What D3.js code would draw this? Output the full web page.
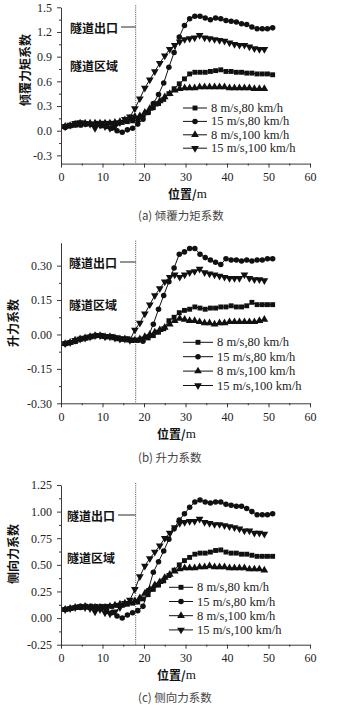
<!DOCTYPE html>
<html>
<head>
<meta charset="utf-8">
<script src="https://cdn.jsdelivr.net/npm/d3@7"></script>
<style>
  body { margin: 0; background: #fff; }
  svg { display: block; }
  .axis path, .axis line { stroke: #222; stroke-width: 0.9; }
</style>
</head>
<body>
<script>
// sample positions (m)
const xs80 = [1, 2.25, 3.5, 4.75, 6, 7.25, 8.5, 9.75, 11, 12.25, 13.5, 14.75, 16, 17.25, 18.5, 19.75, 21, 22.25, 23.5, 24.75,
  26, 27.25, 28.5, 29.75, 31, 32.25, 33.5, 34.75, 36, 37.25, 38.5, 39.75, 41, 42.25, 43.5, 44.75, 46, 47.25, 48.5, 49.75, 51];
const xs100 = [1, 2.2, 3.4, 4.6, 5.8, 7, 8.2, 9.4, 10.6, 11.8, 13, 14.2, 15.4, 16.6, 17.8, 19, 20.2, 21.4, 22.6, 23.8,
  25, 26.2, 27.4, 28.6, 29.8, 31, 32.2, 33.4, 34.6, 35.8, 37, 38.2, 39.4, 40.6, 41.8, 43, 44.2, 45.4, 46.6, 47.8, 49];

const legendLabels = ['8 m/s,80 km/h', '15 m/s,80 km/h', '8 m/s,100 km/h', '15 m/s,100 km/h'];
const xTicks = [0, 10, 20, 30, 40, 50, 60];
const tunnelExit = 18;

// (a) overturning moment coefficient
const momentSq = [0.05,0.06,0.07,0.07,0.08,0.08,0.09,0.09,0.09,0.09,0.09,0.10,0.11,0.12,0.13,0.17,0.22,0.28,0.33,0.38,
  0.45,0.51,0.57,0.63,0.69,0.71,0.71,0.71,0.72,0.73,0.74,0.72,0.72,0.71,0.71,0.70,0.70,0.69,0.69,0.69,0.68];
const momentCirc = [0.04,0.06,0.07,0.07,0.08,0.08,0.07,0.06,0.05,0.03,0.00,-0.02,0.01,0.03,0.08,0.14,0.22,0.33,0.44,0.58,
  0.77,0.95,1.14,1.28,1.36,1.39,1.39,1.37,1.35,1.37,1.36,1.34,1.33,1.32,1.30,1.29,1.26,1.24,1.24,1.24,1.25];
const momentUp = [0.05,0.06,0.08,0.09,0.09,0.09,0.09,0.09,0.09,0.09,0.10,0.11,0.13,0.15,0.17,0.18,0.22,0.27,0.32,0.36,
  0.41,0.45,0.49,0.51,0.52,0.52,0.52,0.53,0.53,0.53,0.53,0.53,0.53,0.52,0.52,0.52,0.52,0.52,0.51,0.51,0.51];
const momentDown = [0.05,0.07,0.09,0.10,0.09,0.08,0.03,0.07,0.05,0.03,0.05,0.10,0.14,0.17,0.27,0.39,0.52,0.62,0.72,0.82,
  0.91,0.99,1.04,1.08,1.11,1.12,1.13,1.16,1.13,1.12,1.11,1.10,1.09,1.07,1.05,1.04,1.04,1.02,1.00,0.99,0.99];
const momentTicks = [-0.3, 0, 0.3, 0.6, 0.9, 1.2, 1.5];

// (b) lift coefficient
const liftSq = [-0.04,-0.035,-0.03,-0.02,-0.015,-0.01,-0.005,-0.005,-0.01,-0.01,-0.015,-0.02,-0.02,-0.025,-0.025,-0.02,-0.015,-0.005,0.01,0.025,
  0.06,0.075,0.095,0.105,0.11,0.12,0.115,0.11,0.115,0.115,0.12,0.12,0.125,0.12,0.12,0.125,0.14,0.13,0.13,0.13,0.13];
const liftCirc = [-0.04,-0.035,-0.03,-0.02,-0.015,-0.01,-0.005,-0.005,-0.01,-0.01,-0.015,-0.02,-0.02,-0.025,-0.025,-0.03,-0.01,0.045,0.11,0.17,
  0.23,0.29,0.35,0.36,0.375,0.375,0.35,0.335,0.325,0.315,0.305,0.33,0.325,0.325,0.32,0.325,0.32,0.325,0.325,0.33,0.33];
const liftUp = [-0.04,-0.035,-0.025,-0.02,-0.015,-0.01,-0.005,-0.005,-0.01,-0.01,-0.015,-0.02,-0.02,-0.025,-0.025,-0.02,-0.01,0.0,0.01,0.02,
  0.03,0.045,0.06,0.07,0.065,0.06,0.06,0.055,0.05,0.05,0.045,0.05,0.05,0.055,0.055,0.055,0.055,0.055,0.055,0.06,0.065];
const liftDown = [-0.04,-0.035,-0.025,-0.02,-0.015,-0.01,-0.005,-0.005,-0.01,-0.01,-0.015,-0.02,-0.02,-0.025,0.02,0.05,0.09,0.13,0.17,0.20,
  0.23,0.25,0.26,0.25,0.26,0.27,0.275,0.285,0.27,0.265,0.26,0.255,0.25,0.245,0.245,0.245,0.26,0.245,0.24,0.24,0.235];
const liftTicks = [-0.3, -0.15, 0, 0.15, 0.3];

// (c) side force coefficient
const sideSq = [0.08,0.09,0.10,0.10,0.11,0.11,0.11,0.11,0.11,0.11,0.12,0.12,0.13,0.14,0.15,0.18,0.22,0.27,0.31,0.35,
  0.40,0.45,0.50,0.54,0.57,0.60,0.61,0.61,0.62,0.635,0.64,0.62,0.61,0.61,0.60,0.60,0.59,0.58,0.58,0.58,0.58];
const sideCirc = [0.08,0.09,0.10,0.11,0.11,0.11,0.10,0.09,0.07,0.05,0.02,0.00,0.03,0.05,0.07,0.11,0.26,0.43,0.53,0.63,
  0.74,0.84,0.92,0.98,1.04,1.09,1.11,1.09,1.08,1.09,1.09,1.07,1.06,1.05,1.05,1.03,1.00,0.97,0.97,0.97,0.98];
const sideUp = [0.08,0.09,0.10,0.10,0.11,0.10,0.10,0.10,0.10,0.11,0.12,0.13,0.14,0.15,0.16,0.19,0.23,0.27,0.31,0.34,
  0.38,0.41,0.44,0.46,0.47,0.47,0.47,0.48,0.48,0.49,0.48,0.48,0.48,0.47,0.47,0.47,0.47,0.46,0.46,0.46,0.45];
const sideDown = [0.08,0.09,0.10,0.11,0.10,0.09,0.06,0.08,0.05,0.04,0.06,0.10,0.14,0.17,0.27,0.39,0.49,0.56,0.62,0.68,
  0.75,0.80,0.85,0.89,0.90,0.91,0.91,0.93,0.90,0.89,0.88,0.88,0.87,0.86,0.85,0.84,0.82,0.82,0.80,0.80,0.79];
const sideTicks = [-0.25, 0, 0.25, 0.5, 0.75, 1.0, 1.25];

const panels = [
  { series: [momentSq, momentCirc, momentUp, momentDown], ticks: momentTicks, fmt: '.1f', yDomain: [-0.4, 1.5],
    ylabel: '倾覆力矩系数', caption: '(a) 倾覆力矩系数',
    top: 7.3, bottom: 163.6, yl: [24, 70], xl: [168, 193], capY: 215,
    legend: { x: 183, len: 24, tx: 211, y: 108, dy: 13.4 }, exitY: 27, zoneY: 65, textEnd: 118 },
  { series: [liftSq, liftCirc, liftUp, liftDown], ticks: liftTicks, fmt: '.2f', yDomain: [-0.3, 0.4],
    ylabel: '升力系数', caption: '(b) 升力系数',
    top: 242.7, bottom: 403.3, yl: [12, 323], xl: [157, 432.7], capY: 456.7,
    legend: { x: 183, len: 30, tx: 217, y: 342.3, dy: 14.4 }, exitY: 262, zoneY: 304, textEnd: 117 },
  { series: [sideSq, sideCirc, sideUp, sideDown], ticks: sideTicks, fmt: '.2f', yDomain: [-0.25, 1.25],
    ylabel: '侧向力系数', caption: '(c) 侧向力系数',
    top: 485, bottom: 644.7, yl: [12, 554], xl: [157, 674], capY: 697,
    legend: { x: 169, len: 24, tx: 197, y: 587.3, dy: 14.2 }, exitY: 515, zoneY: 557, textEnd: 115 }
];

const seriesXs = [xs80, xs80, xs100, xs100];
const symbols = [
  { type: d3.symbolSquare, size: 24, rot: 0 },
  { type: d3.symbolCircle, size: 24, rot: 0 },
  { type: d3.symbolTriangle, size: 26, rot: 0 },
  { type: d3.symbolTriangle, size: 26, rot: 180 }
];
const ink = '#111';
const cjk = '"Noto Sans CJK SC", sans-serif';
const serif = '"Liberation Serif", "DejaVu Serif", serif';

const svg = d3.select('body').append('svg')
  .attr('width', 341)
  .attr('height', 712);

const x = d3.scaleLinear().domain([0, 60]).range([61, 310]);
const xMinor = d3.pairs(xTicks).map(([a, b]) => (a + b) / 2);

// serif tick labels instead of d3's default sans
function styleTicks(sel) {
  sel.attr('font-family', serif).attr('font-size', 12);
  sel.selectAll('text').attr('fill', '#222').attr('font-family', serif).attr('font-size', 12);
}

panels.forEach(p => {
  const g = svg.append('g');
  const y = d3.scaleLinear().domain(p.yDomain).range([p.bottom, p.top]);
  const fmt = d => d3.format(p.fmt)(d).replace('\u2212', '-');
  const yMinor = d3.pairs(p.ticks).map(([a, b]) => (a + b) / 2);

  // axes
  g.append('g').attr('class', 'axis')
    .attr('transform', `translate(0,${p.bottom})`)
    .call(d3.axisBottom(x).tickValues(xTicks).tickSize(4).tickSizeOuter(0).tickPadding(5))
    .call(styleTicks);
  g.append('g').attr('class', 'axis')
    .attr('transform', `translate(0,${p.bottom})`)
    .call(d3.axisBottom(x).tickValues(xMinor).tickSize(2).tickFormat(''))
    .select('.domain').remove();
  g.append('g').attr('class', 'axis')
    .attr('transform', `translate(${x(0)},0)`)
    .call(d3.axisLeft(y).tickValues(p.ticks).tickFormat(fmt).tickSize(4).tickSizeOuter(0).tickPadding(5))
    .call(styleTicks);
  g.append('g').attr('class', 'axis')
    .attr('transform', `translate(${x(0)},0)`)
    .call(d3.axisLeft(y).tickValues(yMinor).tickSize(2).tickFormat(''))
    .select('.domain').remove();

  // tunnel exit marker
  g.append('line')
    .attr('x1', x(tunnelExit)).attr('x2', x(tunnelExit))
    .attr('y1', p.top - 2).attr('y2', p.bottom)
    .attr('stroke', '#333').attr('stroke-width', 0.9).attr('stroke-dasharray', '1,1.2');
  g.append('line')
    .attr('x1', p.textEnd + 3).attr('x2', x(tunnelExit))
    .attr('y1', p.exitY).attr('y2', p.exitY)
    .attr('stroke', ink).attr('stroke-width', 0.9);
  g.append('text')
    .attr('x', p.textEnd).attr('y', p.exitY)
    .attr('text-anchor', 'end').attr('dominant-baseline', 'central')
    .attr('font-family', cjk).attr('font-weight', 'bold').attr('font-size', 12).attr('fill', ink)
    .text('隧道出口');
  g.append('text')
    .attr('x', p.textEnd).attr('y', p.zoneY)
    .attr('text-anchor', 'end').attr('dominant-baseline', 'central')
    .attr('font-family', cjk).attr('font-weight', 'bold').attr('font-size', 12).attr('fill', ink)
    .text('隧道区域');

  // series
  p.series.forEach((vals, si) => {
    const xsArr = seriesXs[si];
    const line = d3.line().x((d, i) => x(xsArr[i])).y(d => y(d));
    g.append('path')
      .datum(vals)
      .attr('d', line)
      .attr('fill', 'none')
      .attr('stroke', ink)
      .attr('stroke-width', 1);
    const sym = symbols[si];
    g.append('g').selectAll('path')
      .data(vals)
      .join('path')
      .attr('transform', (d, i) => `translate(${x(xsArr[i])},${y(d)}) rotate(${sym.rot})`)
      .attr('d', d3.symbol(sym.type, sym.size))
      .attr('fill', ink);
  });

  // legend
  const lg = p.legend;
  legendLabels.forEach((label, i) => {
    const ly = lg.y + i * lg.dy;
    const row = g.append('g');
    row.append('line')
      .attr('x1', lg.x).attr('x2', lg.x + lg.len)
      .attr('y1', ly).attr('y2', ly)
      .attr('stroke', ink).attr('stroke-width', 1);
    row.append('path')
      .attr('transform', `translate(${lg.x + lg.len / 2},${ly}) rotate(${symbols[i].rot})`)
      .attr('d', d3.symbol(symbols[i].type, symbols[i].size))
      .attr('fill', ink);
    row.append('text')
      .attr('x', lg.tx).attr('y', ly)
      .attr('dominant-baseline', 'central')
      .attr('font-family', serif).attr('font-size', 12.5).attr('fill', '#222')
      .text(label);
  });

  // axis titles
  g.append('text')
    .attr('transform', `translate(${p.yl[0]},${p.yl[1]}) rotate(-90)`)
    .attr('text-anchor', 'middle').attr('dominant-baseline', 'central')
    .attr('font-family', cjk).attr('font-weight', 'bold').attr('font-size', 12).attr('fill', ink)
    .text(p.ylabel);
  const xt = g.append('text')
    .attr('x', p.xl[0]).attr('y', p.xl[1])
    .attr('dominant-baseline', 'central').attr('fill', ink);
  xt.append('tspan').attr('font-family', cjk).attr('font-weight', 'bold').attr('font-size', 12).text('位置/');
  xt.append('tspan').attr('font-family', serif).attr('font-size', 13).text('m');

  // caption
  g.append('text')
    .attr('x', 138).attr('y', p.capY)
    .attr('dominant-baseline', 'central')
    .attr('font-family', cjk).attr('font-size', 11.5).attr('fill', '#444')
    .text(p.caption);
});
</script>
</body>
</html>
